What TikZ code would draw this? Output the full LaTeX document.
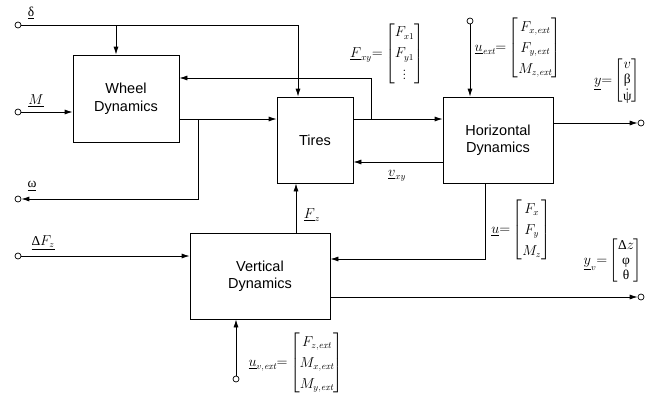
\documentclass[tikz,border=0pt]{standalone}
\usepackage{amsmath}
\usepackage{fontspec}
\setsansfont{Liberation Sans}
\newfontfamily\grkfont{Liberation Serif}
\usetikzlibrary{arrows.meta}
\newcommand{\gr}[1]{\text{\grkfont #1}}

\begin{document}
\begin{tikzpicture}[x=1pt,y=-1pt,line width=0.8pt,
  blk/.style={draw,align=center,inner sep=0pt,font=\sffamily\fontsize{14.5}{17.5}\selectfont},
  port/.style={draw,circle,inner sep=0pt,minimum size=6pt,line width=0.7pt,fill=white},
  lbl/.style={inner sep=0pt,font=\fontsize{13.5}{15}\selectfont},
  >={Latex[length=8pt,width=5pt]}]
  \useasboundingbox (0,0) rectangle (664,399);
  \node[blk,minimum width=106pt,minimum height=87pt] (wheel) at (126,98.5) {Wheel\\Dynamics};
  \node[blk,minimum width=76pt,minimum height=86pt] (tires) at (315,140) {Tires};
  \node[blk,minimum width=110pt,minimum height=86pt] (horiz) at (498,140) {Horizontal\\Dynamics};
  \node[blk,minimum width=140pt,minimum height=86pt] (vert) at (260,276) {Vertical\\Dynamics};
  \node[port] (in_delta) at (18,25) {};
  \node[port] (in_M) at (18,112) {};
  \node[port] (out_omega) at (18,199) {};
  \node[port] (in_dFz) at (18,256) {};
  \node[port] (in_uext) at (470,21) {};
  \node[port] (out_y) at (641,123) {};
  \node[port] (out_yv) at (641,297) {};
  \node[port] (in_uvext) at (236,379) {};
  \coordinate (d_br) at (298,25);
  \coordinate (w_out) at (179,119);
  \coordinate (w_br) at (198,119);
  \coordinate (t_br) at (371,119);
  \draw[->] (in_delta) -- (d_br) -- (d_br |- tires.north);
  \draw[->] ([xshift=-10pt]wheel.north |- in_delta) -- ([xshift=-10pt]wheel.north);
  \draw[->] (in_M) -- (in_M -| wheel.west);
  \draw[->] (w_out) -- (w_out -| tires.west);
  \draw[->] (w_br) |- (out_omega);
  \draw[->] (tires.east |- w_out) -- (horiz.west |- w_out);
  \draw[->] (t_br) |- ([yshift=20.5pt]wheel.east);
  \draw[->] (in_uext) -- (in_uext |- horiz.north);
  \draw[->] ([yshift=17pt]horiz.east) -- (out_y);
  \draw[->] ([yshift=-22pt]horiz.west) -- ([yshift=-22pt]tires.east);
  \draw[->] ([xshift=-13pt]horiz.south) |- ([yshift=17pt]vert.east);
  \draw[->] ([yshift=-21pt]vert.east) -- (out_yv);
  \draw[->] ([xshift=36pt]vert.north) -- ([xshift=36pt]vert.north |- tires.south);
  \draw[->] (in_dFz) -- (in_dFz -| vert.west);
  \draw[->] (in_uvext) -- (in_uvext |- vert.south);
  \node[lbl] (lbl_delta) at (31,13) {$\underline{\gr{δ}}$};
  \node[lbl] (lbl_M) at (36,101) {$\underline{M}$};
  \node[lbl] (lbl_omega) at (32,186) {$\underline{\gr{ω}}$};
  \node[lbl] (lbl_dFz) at (43,243) {$\underline{\gr{Δ}F_z}$};
  \node[lbl] (lbl_Fz) at (312,215) {$\underline{F}_z$};
  \node[lbl] (lbl_vxy) at (397,176) {$\underline{v}_{xy}$};
  \node[lbl] (lbl_Fxy) at (387,54) {\def\arraystretch{1.4}$\underline{F}_{xy}{=}\begin{bmatrix}F_{x1}\\F_{y1}\\\vdots\end{bmatrix}$};
  \node[lbl] (lbl_uext) at (518,48) {\def\arraystretch{1.4}$\underline{u}_{\mathit{ext}}{=}\begin{bmatrix}F_{x,\mathit{ext}}\\F_{y,\mathit{ext}}\\M_{z,\mathit{ext}}\end{bmatrix}$};
  \node[lbl] (lbl_y) at (617,81) {\def\arraystretch{1.05}$\underline{y}{=}\begin{bmatrix}v\\\gr{β}\\\dot{\gr{ψ}}\end{bmatrix}$};
  \node[lbl] (lbl_u) at (521,230) {\def\arraystretch{1.4}$\underline{u}{=}\begin{bmatrix}F_x\\F_y\\M_z\end{bmatrix}$};
  \node[lbl] (lbl_yv) at (613,261) {\def\arraystretch{1}$\underline{y}_v{=}\begin{bmatrix}\gr{Δ}z\\\gr{φ}\\\gr{θ}\end{bmatrix}$};
  \node[lbl] (lbl_uvext) at (296,363) {\def\arraystretch{1.4}$\underline{u}_{v,\mathit{ext}}{=}\begin{bmatrix}F_{z,\mathit{ext}}\\M_{x,\mathit{ext}}\\M_{y,\mathit{ext}}\end{bmatrix}$};
\end{tikzpicture}
\end{document}
